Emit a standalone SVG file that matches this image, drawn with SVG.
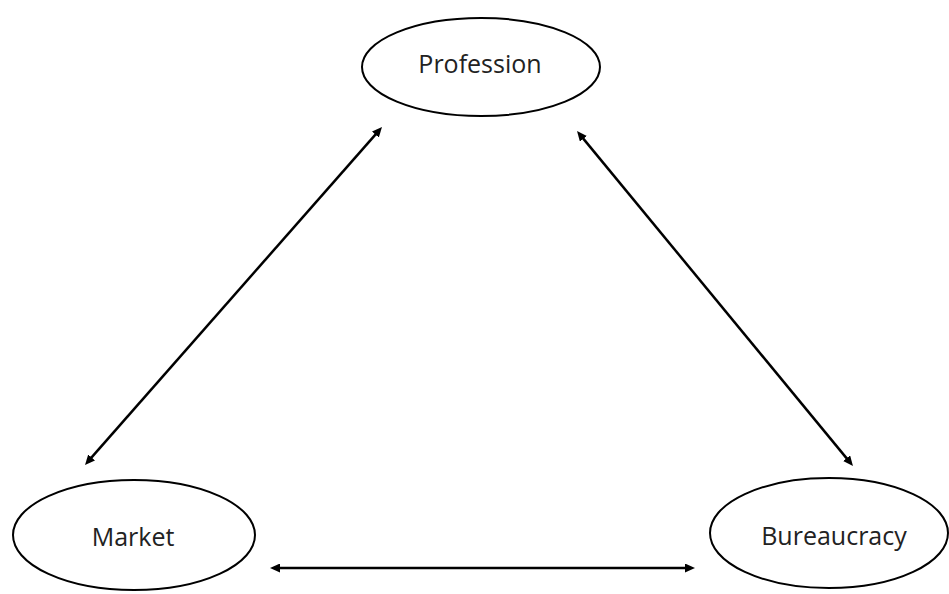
<svg xmlns="http://www.w3.org/2000/svg" width="949" height="594" viewBox="0 0 949 594">
  <style>
    .node ellipse { fill: #ffffff; stroke: #000000; stroke-width: 2; }
    .node text { font-family: "Open Sans", "Liberation Sans", sans-serif; font-size: 25px; fill: #222222; text-anchor: middle; }
    .conn line { stroke: #000000; stroke-width: 2.5; fill: none; marker-start: url(#arrow); marker-end: url(#arrow); }
  </style>
  <defs>
    <marker id="arrow" viewBox="0 0 10 9" refX="5" refY="4.5" markerWidth="10" markerHeight="9" markerUnits="userSpaceOnUse" orient="auto-start-reverse">
      <path d="M0,0 L10,4.5 L0,9 z" fill="#000000"/>
    </marker>
  </defs>
  <rect width="949" height="594" fill="#ffffff"/>
  <g id="connectors" class="conn">
    <line x1="88.3" y1="461.2" x2="378.7" y2="130.8"/>
    <line x1="580.2" y1="134.9" x2="849.8" y2="462.1"/>
    <line x1="275" y1="568" x2="690" y2="568"/>
  </g>
  <g id="profession" class="node">
    <ellipse cx="481" cy="67" rx="119" ry="49"/>
    <text x="480" y="73">Profession</text>
  </g>
  <g id="market" class="node">
    <ellipse cx="134" cy="535" rx="121" ry="55"/>
    <text x="133" y="546">Market</text>
  </g>
  <g id="bureaucracy" class="node">
    <ellipse cx="829" cy="533" rx="119" ry="55"/>
    <text x="834" y="545">Bureaucracy</text>
  </g>
</svg>
